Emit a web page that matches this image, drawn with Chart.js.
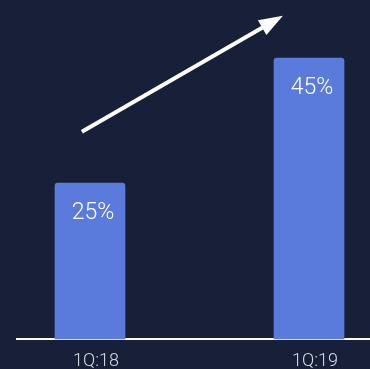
<!DOCTYPE html>
<html>
<head>
<meta charset="utf-8">
<script src="https://cdn.jsdelivr.net/npm/chart.js@4"></script>
<style>
html,body{margin:0;padding:0;background:#172038;}
canvas{display:block;}
</style>
</head>
<body>
<canvas id="c" width="370" height="369"></canvas>
<script>
const categories = ['1Q:18', '1Q:19'];
const values = [25, 45];
const valueLabels = ['25%', '45%'];
// arrow annotation in data units: [category index, value]
const arrowStart = [-0.037, 33.2];
const arrowEnd = [0.881, 51.8];
// baseline extent in category-index units
const baselineRange = [-0.338, 1.279];

const BG = '#172038';
const BAR = '#5a7bdc';

const overlayPlugin = {
  id: 'overlay',
  beforeDatasetsDraw(chart) {
    const ctx = chart.ctx;
    const xs = chart.scales.x, ys = chart.scales.y;
    const y0 = ys.getPixelForValue(0);
    ctx.save();
    ctx.strokeStyle = '#ffffff';
    ctx.lineWidth = 2;
    ctx.beginPath();
    ctx.moveTo(xs.getPixelForValue(baselineRange[0]), y0);
    ctx.lineTo(xs.getPixelForValue(baselineRange[1]), y0);
    ctx.stroke();
    ctx.restore();
  },
  afterDatasetsDraw(chart) {
    const ctx = chart.ctx;
    const meta = chart.getDatasetMeta(0);
    ctx.save();
    ctx.fillStyle = '#ffffff';
    ctx.font = '300 23px Roboto, "Open Sans", sans-serif';
    ctx.textAlign = 'center';
    ctx.textBaseline = 'middle';
    meta.data.forEach((bar, i) => {
      ctx.fillText(valueLabels[i], bar.x + 3, bar.y + 30);
    });
    const xs = chart.scales.x, ys = chart.scales.y;
    const x1 = xs.getPixelForValue(arrowStart[0]), y1 = ys.getPixelForValue(arrowStart[1]);
    const x2 = xs.getPixelForValue(arrowEnd[0]), y2 = ys.getPixelForValue(arrowEnd[1]);
    const ang = Math.atan2(y2 - y1, x2 - x1);
    const headLen = 24, headW = 8.5;
    const bx = x2 - headLen * Math.cos(ang), by = y2 - headLen * Math.sin(ang);
    ctx.strokeStyle = '#ffffff';
    ctx.lineWidth = 4;
    ctx.beginPath();
    ctx.moveTo(x1, y1);
    ctx.lineTo(bx + 3 * Math.cos(ang), by + 3 * Math.sin(ang));
    ctx.stroke();
    ctx.beginPath();
    ctx.moveTo(x2, y2);
    ctx.lineTo(bx + headW * Math.sin(ang), by - headW * Math.cos(ang));
    ctx.lineTo(bx - headW * Math.sin(ang), by + headW * Math.cos(ang));
    ctx.closePath();
    ctx.fillStyle = '#ffffff';
    ctx.fill();
    ctx.restore();
  }
};

new Chart(document.getElementById('c'), {
  type: 'bar',
  data: {
    labels: categories,
    datasets: [{
      data: values,
      backgroundColor: BAR,
      borderRadius: { topLeft: 3, topRight: 3 },
      borderSkipped: 'bottom',
      barThickness: 70,
      clip: false
    }]
  },
  options: {
    responsive: false,
    animation: false,
    layout: { padding: { left: 90, right: 61, top: 2, bottom: 0 } },
    plugins: { legend: { display: false }, tooltip: { enabled: false } },
    scales: {
      x: {
        offset: false,
        grid: { display: false, drawTicks: false },
        border: { display: false },
        afterFit(scale) { scale.height = 30; },
        ticks: {
          padding: 12,
          color: '#d8dbe3',
          font: { family: 'Roboto, "Open Sans", sans-serif', size: 18, weight: 300 },
          autoSkip: false,
          maxRotation: 0,
          labelOffset: 6
        }
      },
      y: {
        display: false,
        min: 0,
        max: 54
      }
    }
  },
  plugins: [overlayPlugin]
});
</script>
</body>
</html>
